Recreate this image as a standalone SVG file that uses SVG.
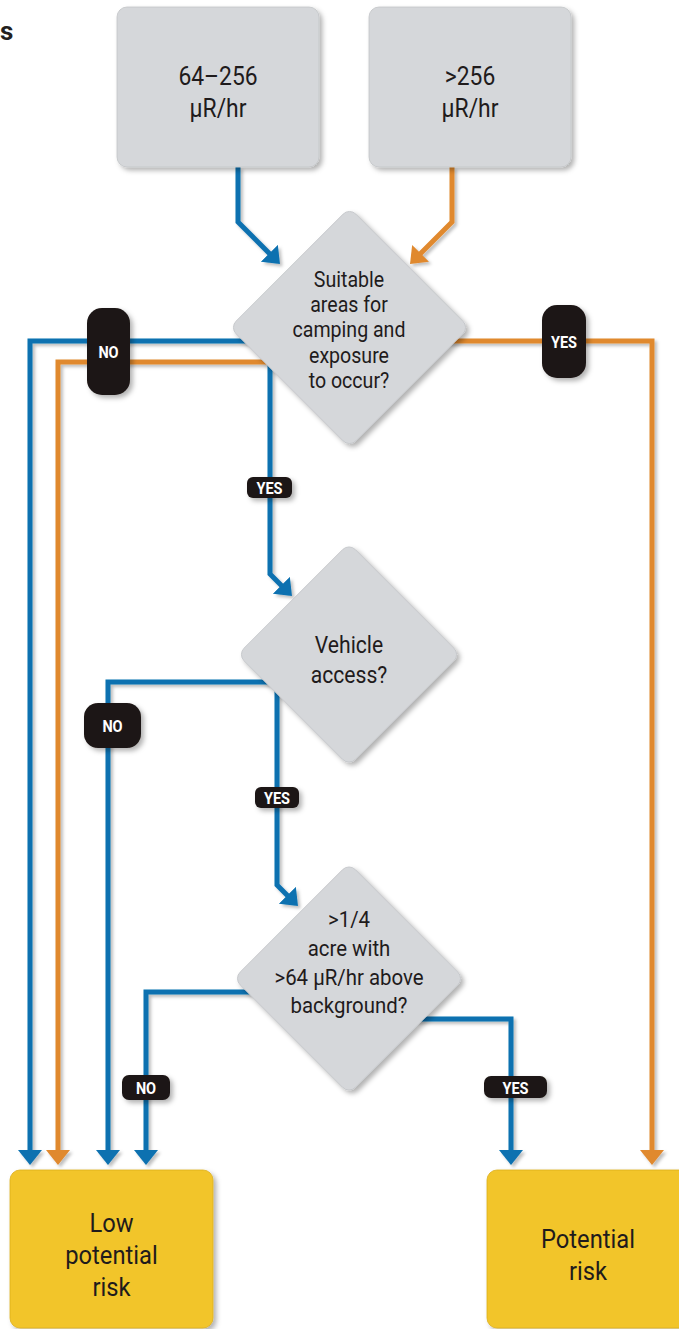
<svg xmlns="http://www.w3.org/2000/svg" width="679" height="1329" viewBox="0 0 679 1329">
  <style>
    .box { fill: #d5d7da; stroke: #c2c4c7; stroke-width: 0.8; }
    .end { fill: #f2c52b; stroke: #dcae1c; stroke-width: 0.8; }
    .txt { font-family: Roboto, "Liberation Sans", sans-serif; fill: #1f1b1c; text-anchor: middle; }
    .blue { fill: none; stroke: #0a71b0; stroke-width: 5; stroke-linejoin: miter; marker-end: url(#arrow-blue); }
    .orange { fill: none; stroke: #e0892f; stroke-width: 5; stroke-linejoin: miter; marker-end: url(#arrow-orange); }
    .badge { fill: #1c1514; }
    .btxt { font-family: Roboto, "Liberation Sans", sans-serif; font-weight: 700; font-size: 16.5px; fill: #ffffff; text-anchor: middle; }
  </style>
  <defs>
    <filter id="shadow" x="-20%" y="-20%" width="140%" height="140%">
      <feDropShadow dx="3" dy="3" stdDeviation="2.5" flood-color="#000" flood-opacity="0.3"/>
    </filter>
    <filter id="lineshadow" x="-5%" y="-5%" width="110%" height="110%">
      <feDropShadow dx="2.5" dy="2.5" stdDeviation="1.5" flood-color="#000" flood-opacity="0.25"/>
    </filter>
    <marker id="arrow-blue" markerUnits="userSpaceOnUse" markerWidth="16" markerHeight="26" refX="5" refY="12" orient="auto">
      <path d="M0,0 L15,12 L0,24 Z" fill="#0a71b0"/>
    </marker>
    <marker id="arrow-orange" markerUnits="userSpaceOnUse" markerWidth="16" markerHeight="26" refX="5" refY="12" orient="auto">
      <path d="M0,0 L15,12 L0,24 Z" fill="#e0892f"/>
    </marker>
  </defs>

  <rect width="679" height="1329" fill="#ffffff"/>

  <!-- trailing letter of the heading -->
  <text x="0" y="40" font-family="Roboto, 'Liberation Sans', sans-serif" font-size="26" font-weight="700" fill="#231f20">s</text>

  <!-- connectors -->
  <g id="connectors" filter="url(#lineshadow)">
    <path class="blue" d="M238,167 V222 L272.9,256.9"/>
    <path class="orange" d="M452,167 V222 L417.1,256.9"/>
    <path class="blue" d="M250,341 H30 V1155"/>
    <path class="orange" d="M270,362 H58 V1155"/>
    <path class="orange" d="M445,341 H652 V1155"/>
    <path class="blue" d="M270,362 V574 L284.9,588.9"/>
    <path class="blue" d="M270,682 H108 V1155"/>
    <path class="blue" d="M277,680 V885 L290.9,898.9"/>
    <path class="blue" d="M256,992 H146 V1155"/>
    <path class="blue" d="M415,1019 H511 V1155"/>
  </g>

  <!-- connector labels -->
  <g id="labels">
    <g filter="url(#shadow)">
      <rect class="badge" x="87" y="308" width="43" height="87" rx="15"/>
      <rect class="badge" x="542" y="305" width="44" height="73" rx="15"/>
      <rect class="badge" x="247" y="477" width="45" height="21" rx="6"/>
      <rect class="badge" x="84" y="703" width="57" height="45" rx="14"/>
      <rect class="badge" x="255" y="787" width="44" height="21" rx="6"/>
      <rect class="badge" x="122" y="1075" width="48" height="25" rx="7"/>
      <rect class="badge" x="484" y="1076" width="63" height="22" rx="7"/>
    </g>
    <g class="btxt">
      <text transform="translate(108.5,358) scale(0.88,1)">NO</text>
      <text transform="translate(564,347.5) scale(0.88,1)">YES</text>
      <text transform="translate(269.5,493.5) scale(0.88,1)">YES</text>
      <text transform="translate(112.5,731.5) scale(0.88,1)">NO</text>
      <text transform="translate(277,803.5) scale(0.88,1)">YES</text>
      <text transform="translate(146,1093.5) scale(0.88,1)">NO</text>
      <text transform="translate(515.5,1093.5) scale(0.88,1)">YES</text>
    </g>
  </g>

  <!-- source ranges -->
  <g id="range-low">
    <rect class="box" x="117" y="7" width="202" height="160" rx="10" filter="url(#shadow)"/>
    <text class="txt" font-size="26" transform="translate(218,0) scale(0.88,1)"><tspan x="0" y="85">64–256</tspan><tspan x="0" y="117">µR/hr</tspan></text>
  </g>
  <g id="range-high">
    <rect class="box" x="369" y="7" width="202" height="160" rx="10" filter="url(#shadow)"/>
    <text class="txt" font-size="26" transform="translate(470,0) scale(0.88,1)"><tspan x="0" y="85">&gt;256</tspan><tspan x="0" y="117">µR/hr</tspan></text>
  </g>

  <!-- decisions -->
  <g id="q-camping">
    <g filter="url(#shadow)">
      <rect class="box" x="-84.7" y="-84.7" width="169.4" height="169.4" rx="9" transform="translate(349.5,327.5) rotate(45)"/>
    </g>
    <text class="txt" font-size="22.5" transform="translate(349,0) scale(0.87,1)"><tspan x="0" y="287">Suitable</tspan><tspan x="0" y="312">areas for</tspan><tspan x="0" y="337.5">camping and</tspan><tspan x="0" y="363">exposure</tspan><tspan x="0" y="388">to occur?</tspan></text>
  </g>
  <g id="q-vehicle">
    <g filter="url(#shadow)">
      <rect class="box" x="-78.7" y="-78.7" width="157.4" height="157.4" rx="9" transform="translate(349,654.5) rotate(45)"/>
    </g>
    <text class="txt" font-size="23" transform="translate(349,0) scale(0.92,1)"><tspan x="0" y="653">Vehicle</tspan><tspan x="0" y="683">access?</tspan></text>
  </g>
  <g id="q-acre">
    <g filter="url(#shadow)">
      <rect class="box" x="-81.5" y="-81.5" width="163" height="163" rx="9" transform="translate(349,978.5) rotate(45)"/>
    </g>
    <text class="txt" font-size="21.5" transform="translate(349,0) scale(0.95,1)"><tspan x="0" y="927">&gt;1/4</tspan><tspan x="0" y="956">acre with</tspan><tspan x="0" y="985">&gt;64 µR/hr above</tspan><tspan x="0" y="1013">background?</tspan></text>
  </g>

  <!-- outcomes -->
  <g id="low-risk">
    <rect class="end" x="10" y="1170" width="203" height="158" rx="10" filter="url(#shadow)"/>
    <text class="txt" font-size="25" transform="translate(111.5,0) scale(0.95,1)"><tspan x="0" y="1232">Low</tspan><tspan x="0" y="1264">potential</tspan><tspan x="0" y="1296">risk</tspan></text>
  </g>
  <g id="potential-risk">
    <rect class="end" x="487" y="1170" width="203" height="158" rx="10" filter="url(#shadow)"/>
    <text class="txt" font-size="25" transform="translate(588,0) scale(0.95,1)"><tspan x="0" y="1248">Potential</tspan><tspan x="0" y="1280">risk</tspan></text>
  </g>
</svg>
